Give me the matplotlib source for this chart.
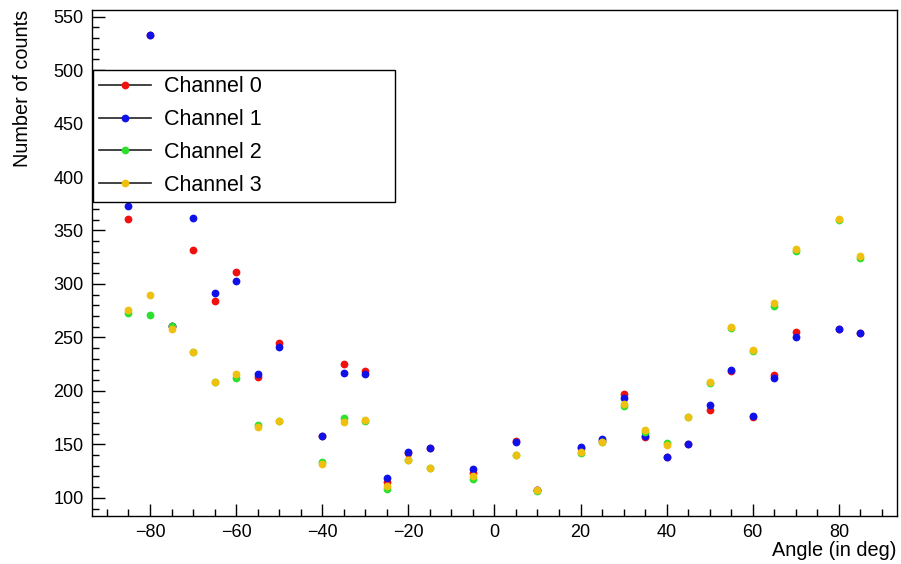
import matplotlib
matplotlib.use('Agg')
import matplotlib.pyplot as plt
from matplotlib.lines import Line2D
from matplotlib.ticker import MultipleLocator

plt.rcParams['font.family'] = ['Liberation Sans', 'DejaVu Sans']

# angles (deg) shared by all channels
angles = [-85, -80, -75, -70, -65, -60, -55, -50, -40, -35, -30, -25, -20, -15, -5,
          5, 10, 20, 25, 30, 35, 40, 45, 50, 55, 60, 65, 70, 80, 85]

ch0 = [361, 533, 261, 332, 284, 311, 213, 245, 158, 225, 219, 115, 142, 147, 123,
       153, 107, 147, 153, 197, 157, 138, 150, 182, 219, 176, 215, 255, 258, 254]
ch1 = [373, 533, 261, 362, 292, 303, 216, 241, 158, 217, 216, 119, 143, 147, 127,
       152, 107, 148, 155, 193, 158, 138, 150, 187, 220, 177, 212, 250, 258, 254]
ch2 = [273, 271, 261, 236, 208, 212, 168, 172, 134, 175, 172, 108, 135, 128, 118,
       140, 106, 142, 152, 186, 162, 151, 176, 207, 259, 237, 279, 331, 360, 324]
ch3 = [276, 290, 258, 236, 208, 216, 166, 172, 132, 171, 173, 111, 135, 128, 120,
       140, 107, 143, 152, 188, 163, 149, 176, 208, 260, 238, 282, 333, 361, 326]

labels = ['Channel 0', 'Channel 1', 'Channel 2', 'Channel 3']
colors = ['#f01010', '#1010e8', '#2ee02e', '#f0c010']

fig = plt.figure(figsize=(9.01, 5.64), dpi=100)
ax = fig.add_axes([0.102, 0.085, 0.8935, 0.897])

for vals, c in zip([ch0, ch1, ch2, ch3], colors):
    ax.plot(angles, vals, 'o', color=c, markersize=5.6, markeredgewidth=0)

ax.set_xlim(-93.5, 93.5)
ax.set_ylim(83, 556)
ax.xaxis.set_major_locator(MultipleLocator(20))
ax.xaxis.set_minor_locator(MultipleLocator(5))
ax.yaxis.set_major_locator(MultipleLocator(50))
ax.yaxis.set_minor_locator(MultipleLocator(10))
ax.tick_params(which='major', direction='in', length=9, width=1, labelsize=13, pad=6)
ax.tick_params(which='minor', direction='in', length=5, width=1)
ax.tick_params(top=False, right=False)
for s in ax.spines.values():
    s.set_linewidth(1)

# axis titles placed ROOT-style (right / top aligned)
fig.text(896 / 901, 1 - 551 / 564, 'Angle (in deg)', fontsize=14.3, ha='right', va='center')
ax.set_ylabel('Number of counts', fontsize=14.3, loc='top', labelpad=15)

handles = [Line2D([0], [0], color='#222222', lw=1.2, marker='o', markersize=5.6,
                  markerfacecolor=c, markeredgewidth=0) for c in colors]
leg = ax.legend(handles, labels, loc='upper left', bbox_to_anchor=(0.001, 0.62, 0.375, 0.262),
                mode='expand', fontsize=15.5, handlelength=2.4, handletextpad=0.6,
                labelspacing=0.55, borderpad=0.3, borderaxespad=0, fancybox=False,
                framealpha=1, edgecolor='black')
leg.get_frame().set_linewidth(1)

fig.savefig('out.png', dpi=100)
